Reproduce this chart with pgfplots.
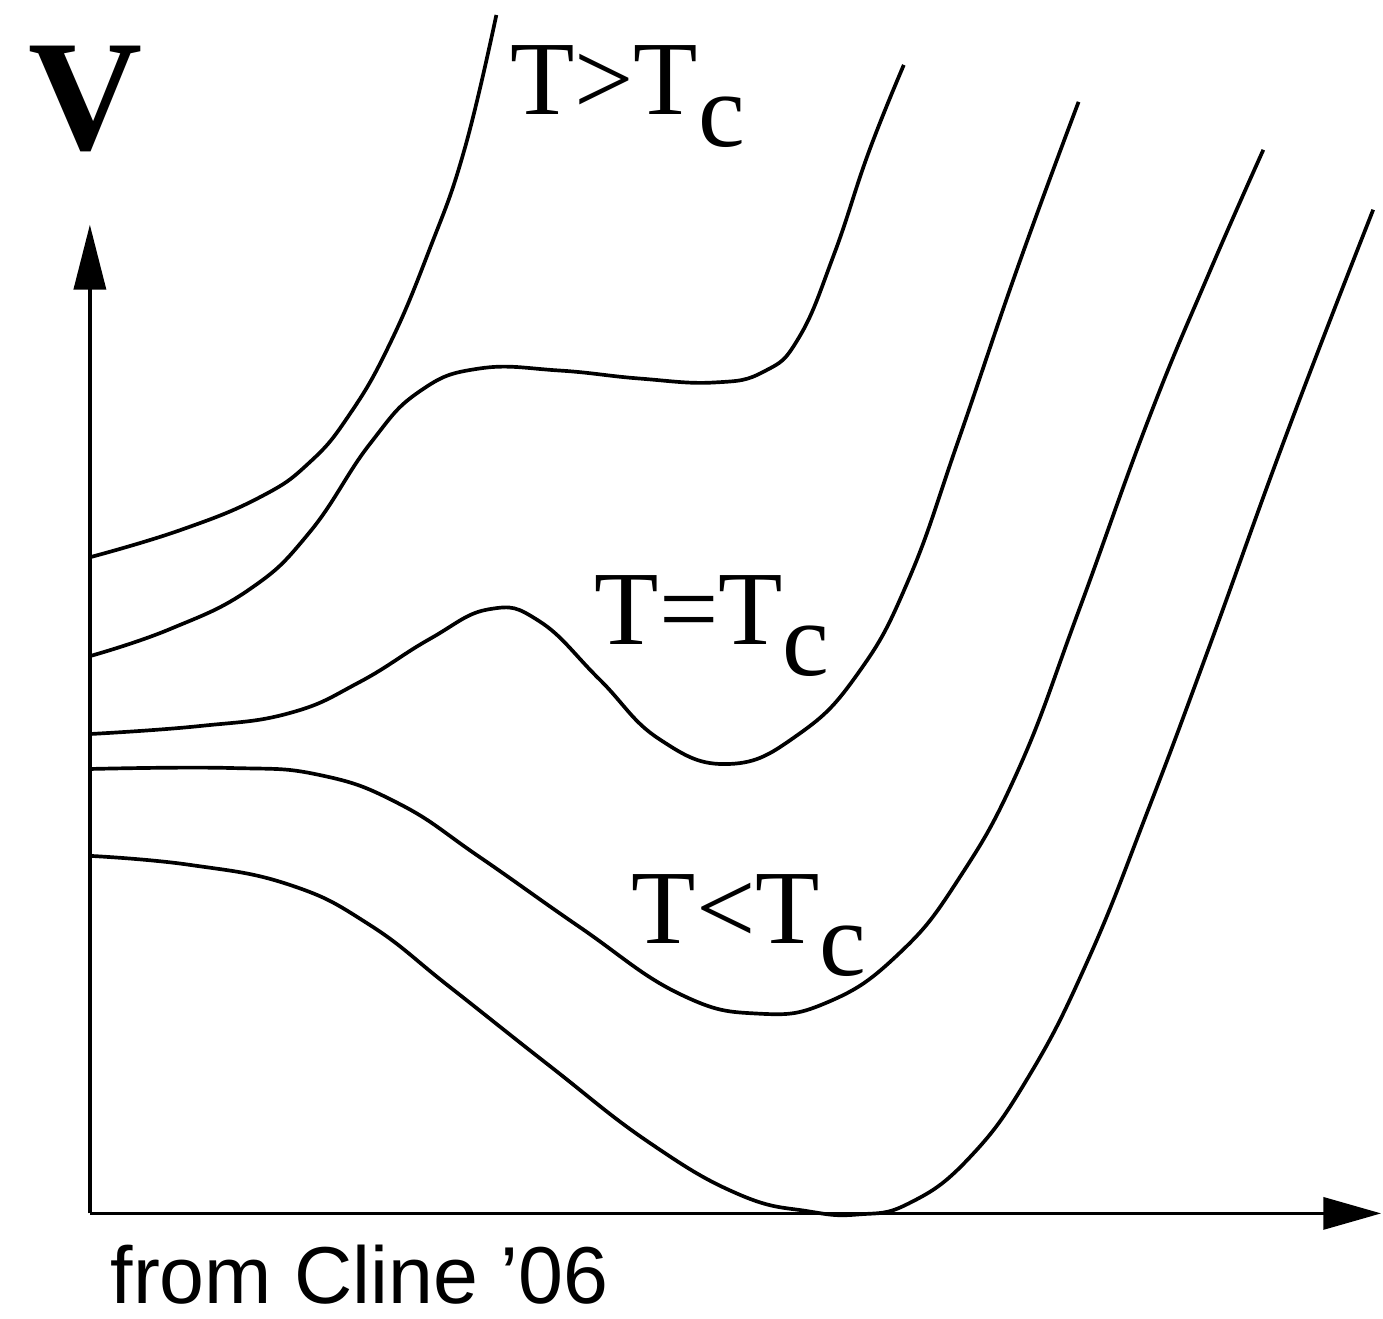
\documentclass[border=0pt]{standalone}
\usepackage{pgfplots}
\pgfplotsset{compat=1.18}
\usepackage{fontspec}
\setmainfont{Liberation Serif}
\newfontfamily\arial{Liberation Sans}
\usetikzlibrary{arrows.meta}
\begin{document}
\begin{tikzpicture}
\begin{axis}[
  scale only axis, width=138.3mm, height=132mm,
  xmin=0, xmax=1383, ymin=0, ymax=1320, y dir=reverse,
  hide axis, clip=false,
  cycle list={{black, solid}},
  every axis plot/.append style={black, solid, line width=1.05pt, smooth, tension=0.75, no marks},
]
\path (axis cs:0,0) rectangle (axis cs:1383,1320);
% axes
\addplot[black, solid, sharp plot, line width=1.05pt, -{Triangle[length=6.5mm,width=3.2mm]}] coordinates {(90,1215) (90,225)};
\addplot[black, solid, sharp plot, line width=1.05pt, -{Triangle[length=5.8mm,width=3.2mm]}] coordinates {(90,1215) (1383,1215)};
% curve 1 (T>Tc)
\addplot[black] coordinates {(90,558) (180,531) (260,498) (310,463) (350,415) (390,345) (430,250) (465,150) (497,15)};
% curve 2
\addplot[black] coordinates {(90,657) (170,630) (250,590) (310,533) (370,445) (420,392) (480,369) (560,371) (640,379) (715,383) (765,372) (800,338) (835,255) (870,152) (905,65)};
% curve 3 (T=Tc)
\addplot[black] coordinates {(90,735) (200,727) (290,714) (360,683) (430,640) (490,610) (540,622) (600,680) (660,740) (730,765) (800,735) (860,673) (910,580) (960,440) (1020,265) (1080,102)};
% curve 4 (T<Tc)
\addplot[black] coordinates {(90,770) (230,769) (320,776) (400,805) (480,858) (580,928) (680,995) (760,1015) (830,1003) (900,955) (960,880) (1020,770) (1080,612) (1150,420) (1210,275) (1265,150)};
% curve 5
\addplot[black] coordinates {(90,857) (190,866) (290,886) (370,926) (450,988) (550,1067) (650,1144) (740,1196) (810,1213) (860,1216) (910,1205) (970,1160) (1030,1078) (1090,960) (1150,810) (1210,650) (1290,430) (1375,210)};
% labels
\node[anchor=base west, inner sep=0pt] at (axis cs:28,150) {\fontsize{45}{50}\selectfont\bfseries V};
\node[anchor=base west, inner sep=0pt] at (axis cs:510,115) {\fontsize{30}{36}\selectfont T>T\raisebox{-9pt}{c}};
\node[anchor=base west, inner sep=0pt] at (axis cs:595,645) {\fontsize{30}{36}\selectfont T=T\raisebox{-9pt}{c}};
\node[anchor=base west, inner sep=0pt] at (axis cs:632,945) {\fontsize{30}{36}\selectfont T<T\raisebox{-9pt}{c}};
\node[anchor=base west, inner sep=0pt] at (axis cs:110,1305) {\arial\fontsize{23}{27}\selectfont from Cline ’06};
\end{axis}
\end{tikzpicture}
\end{document}
